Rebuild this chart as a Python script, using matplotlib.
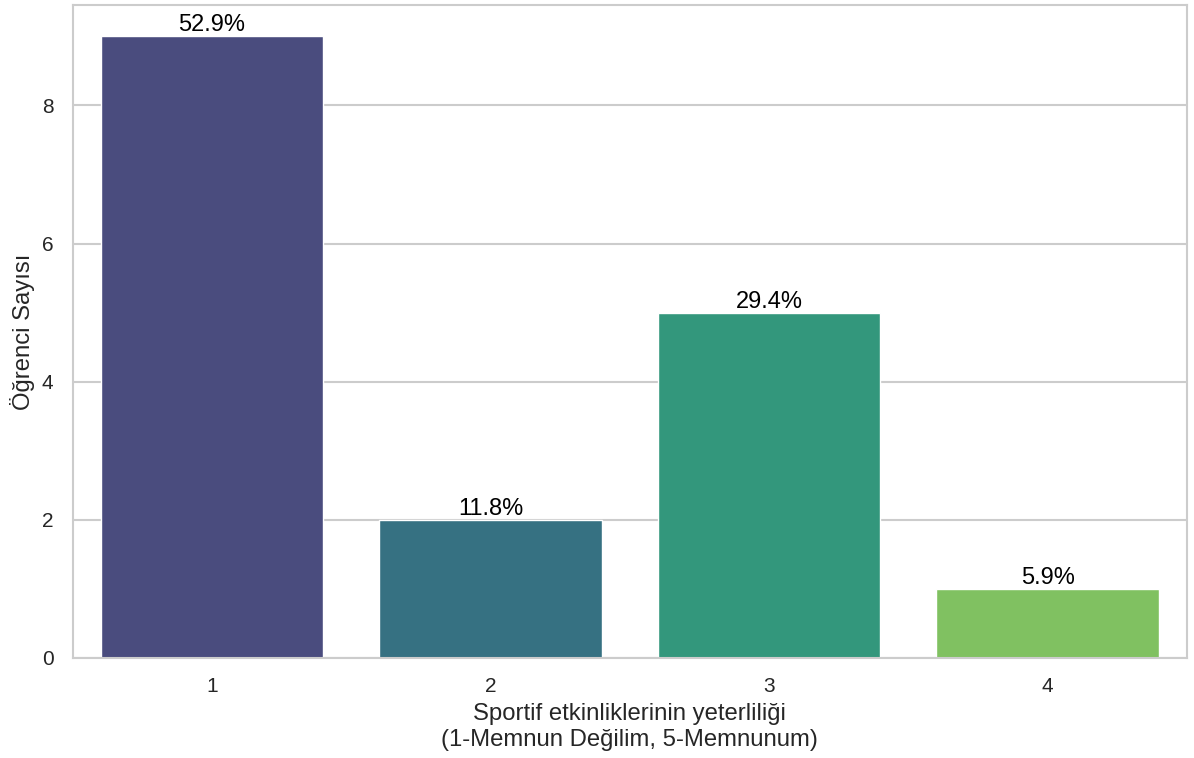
import matplotlib
matplotlib.use("Agg")
import matplotlib.pyplot as plt
import seaborn as sns
import pandas as pd

# answers to the survey question, 1-4
categories = ["1", "2", "3", "4"]
counts = [9, 2, 5, 1]
percent_labels = ["52.9%", "11.8%", "29.4%", "5.9%"]

sns.set_theme(style="whitegrid")
plt.rcParams['font.family'] = ['Arial', 'Liberation Sans', 'DejaVu Sans']

df = pd.DataFrame({"cevap": categories, "sayi": counts})

fig, ax = plt.subplots(figsize=(11.94, 7.58), dpi=100)
sns.barplot(data=df, x="cevap", y="sayi", hue="cevap", palette="viridis",
            legend=False, ax=ax)

for i, p in enumerate(ax.patches):
    ax.annotate(percent_labels[i],
                (p.get_x() + p.get_width() / 2, p.get_height()),
                ha="center", va="bottom", fontsize=17, color="black")

ax.set_xlabel("Sportif etkinliklerinin yeterliliği\n(1-Memnun Değilim, 5-Memnunum)",
              fontsize=17.2, labelpad=5)
ax.set_ylabel("Öğrenci Sayısı", fontsize=17.2, labelpad=5)
ax.tick_params(labelsize=15, pad=8)
ax.set_yticks([0, 2, 4, 6, 8])
for s in ax.spines.values():
    s.set_linewidth(1.5)
    s.set_color("#cccccc")
ax.yaxis.grid(True, linewidth=1.5)
ax.xaxis.grid(False)

fig.subplots_adjust(left=0.061, right=0.994, top=0.993, bottom=0.132)
fig.savefig("out.png", dpi=100)
